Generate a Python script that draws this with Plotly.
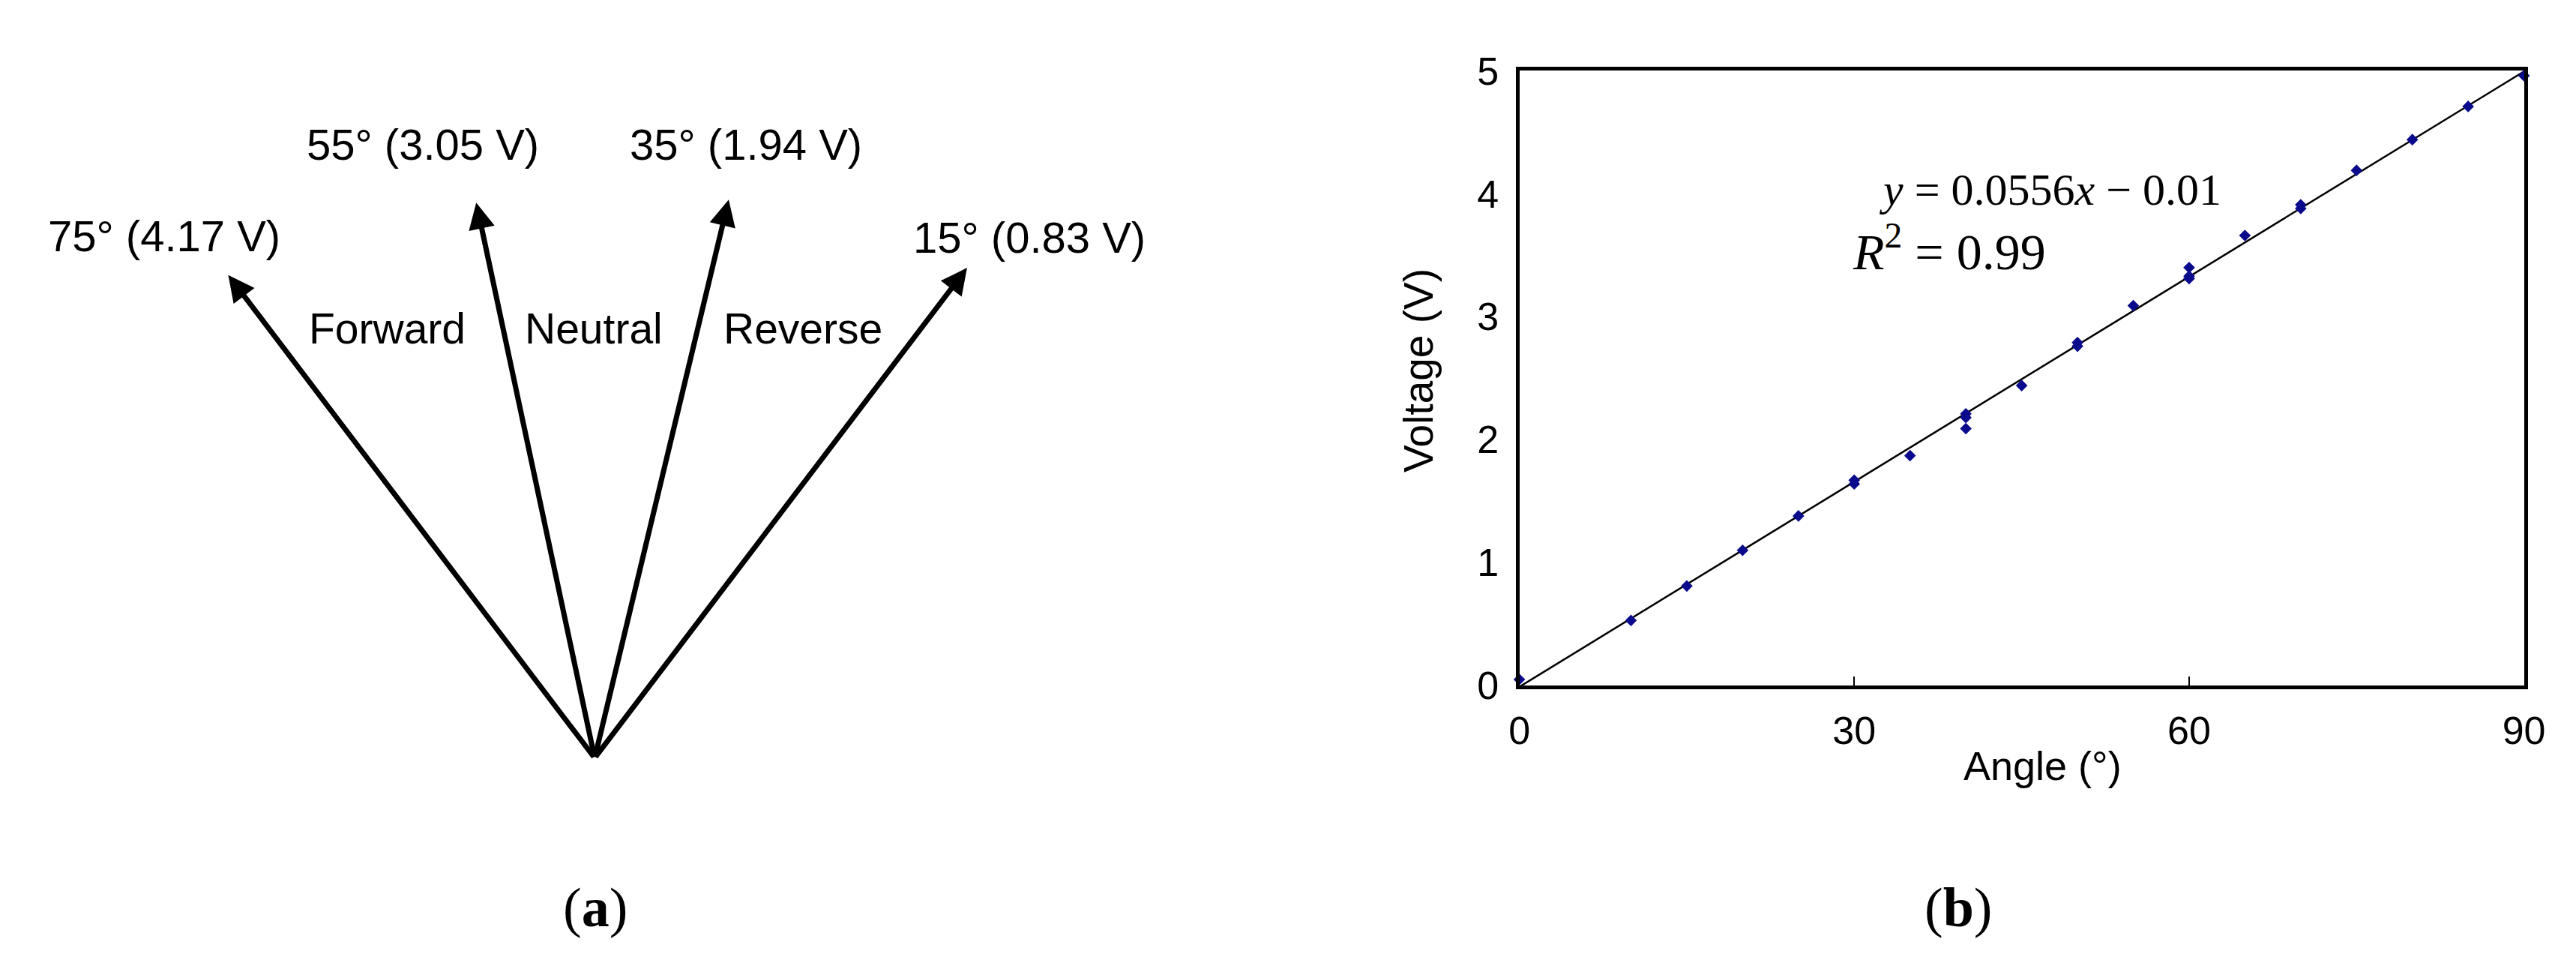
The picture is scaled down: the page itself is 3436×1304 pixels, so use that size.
import plotly.graph_objects as go

# --- panel (a): lever positions ---
lever_angles = [75, 55, 35, 15]
lever_volts = [4.17, 3.05, 1.94, 0.83]
lever_modes = ["Forward", "Neutral", "Reverse"]

# --- panel (b): calibration measurements ---
angle_deg = [0, 10, 15, 20, 25, 30, 30, 35, 40, 40, 40, 45, 50, 50, 55,
             60, 60, 60, 65, 70, 70, 75, 80, 85, 90]
voltage_v = [0.05, 0.53, 0.81, 1.10, 1.38, 1.64, 1.67, 1.87, 2.21, 2.18, 2.09, 2.44, 2.79, 2.76, 3.09,
             3.40, 3.33, 3.31, 3.66, 3.91, 3.88, 4.19, 4.44, 4.71, 4.96]
fit_slope = 0.0556
fit_intercept = -0.01
fit_r2 = 0.99
fit_range = [0, 90]
x_ticks = [0, 30, 60, 90]
y_ticks = [0, 1, 2, 3, 4, 5]

W, H = 3436, 1304
SANS = "Liberation Sans"
SERIF = "Liberation Serif"

# diagram layout (drawing units of the left panel)
ORIGIN = (781, 1019)
TIPS = [(286, 345), (621, 244), (962, 240), (1284, 335)]
LABEL_POS = [(199, 290), (549, 163), (985, 163), (1368, 293)]
MODE_POS = [(501, 420), (780, 420), (1062, 420)]

fig = go.Figure()

fig.add_trace(go.Scatter(
    x=fit_range,
    y=[fit_slope * a + fit_intercept for a in fit_range],
    mode="lines",
    line=dict(color="black", width=2.5),
    hoverinfo="skip",
    xaxis="x", yaxis="y",
))

fig.add_trace(go.Scatter(
    x=angle_deg,
    y=voltage_v,
    mode="markers",
    marker=dict(symbol="diamond", size=12, color="#0a0a8c"),
    cliponaxis=False,
    xaxis="x", yaxis="y",
))

# invisible anchor for the diagram axes
fig.add_trace(go.Scatter(
    x=[ORIGIN[0]], y=[ORIGIN[1]],
    mode="markers", marker=dict(size=1, opacity=0),
    hoverinfo="skip",
    xaxis="x2", yaxis="y2",
))

annotations = []

for (tx, ty) in TIPS:
    annotations.append(dict(
        x=tx, y=ty, ax=ORIGIN[0], ay=ORIGIN[1],
        xref="x2", yref="y2", axref="x2", ayref="y2",
        text="", showarrow=True,
        arrowhead=2, arrowsize=1.0, arrowwidth=7, arrowcolor="black",
    ))

for ang, volt, (lx, ly) in zip(lever_angles, lever_volts, LABEL_POS):
    annotations.append(dict(
        x=lx, y=ly, xref="x2", yref="y2",
        text=f"{ang}° ({volt:.2f} V)", showarrow=False,
        xanchor="center", yanchor="middle",
        font=dict(family=SANS, size=58, color="black"),
    ))

for mode, (mx, my) in zip(lever_modes, MODE_POS):
    annotations.append(dict(
        x=mx, y=my, xref="x2", yref="y2",
        text=mode, showarrow=False,
        xanchor="center", yanchor="middle",
        font=dict(family=SANS, size=57, color="black"),
    ))


def px(x, y):
    return x / W, 1 - y / H


for text, (cx, cy), font, angle in [
    ("Voltage (V)", (1893, 478), dict(family=SANS, size=55, color="black"), -90),
    ("Angle (°)", (2737, 1030), dict(family=SANS, size=54, color="black"), 0),
    (f"<i>y</i> = {fit_slope}<i>x</i> − {abs(fit_intercept)}", (2747, 226),
     dict(family=SERIF, size=60, color="black"), 0),
    (f"<i>R</i><sup>2</sup> = {fit_r2}", (2611, 308), dict(family=SERIF, size=68, color="black"), 0),
    ("(<b>a</b>)", (782, 1228), dict(family=SERIF, size=74, color="black"), 0),
    ("(<b>b</b>)", (2623, 1228), dict(family=SERIF, size=74, color="black"), 0),
]:
    x, y = px(cx, cy)
    annotations.append(dict(
        x=x, y=y, xref="paper", yref="paper",
        text=text, showarrow=False, textangle=angle,
        xanchor="center", yanchor="middle", font=font,
    ))

fig.update_layout(
    width=W,
    height=H,
    margin=dict(l=0, r=0, t=0, b=0),
    paper_bgcolor="white",
    plot_bgcolor="white",
    showlegend=False,
    annotations=annotations,
    xaxis=dict(
        domain=[2030 / W, 3387 / W],
        range=[0, 90],
        tickvals=x_ticks,
        ticks="inside", ticklen=12, tickwidth=2, tickcolor="black",
        ticklabelstandoff=10,
        showline=True, mirror=True, linecolor="black", linewidth=5,
        showgrid=False, zeroline=False,
        tickfont=dict(family=SANS, size=52, color="black"),
        anchor="y",
    ),
    yaxis=dict(
        domain=[1 - 918 / H, 1 - 60 / H],
        range=[0, 5],
        tickvals=y_ticks,
        ticks="",
        ticklabelstandoff=12,
        showline=True, mirror=True, linecolor="black", linewidth=5,
        showgrid=False, zeroline=False,
        tickfont=dict(family=SANS, size=52, color="black"),
        anchor="x",
    ),
    xaxis2=dict(domain=[0, 0.5], range=[0, W / 2], visible=False, anchor="y2"),
    yaxis2=dict(domain=[0, 1], range=[H, 0], visible=False, anchor="x2"),
)

fig.write_html("out.html")
